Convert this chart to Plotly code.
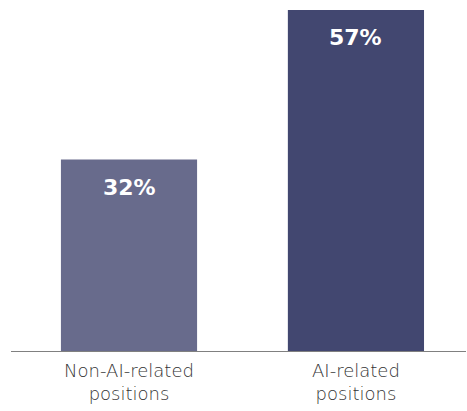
import plotly.graph_objects as go

categories = ["Non-AI-related<br>positions", "AI-related<br>positions"]
values = [32, 57]
value_labels = ["32%", "57%"]
bar_colors = ["#686b8c", "#424770"]

x_pos = list(range(len(categories)))

fig = go.Figure()
fig.add_trace(go.Bar(
    x=x_pos, y=values, width=0.6,
    marker=dict(color=bar_colors, line=dict(width=0)),
    hoverinfo="skip",
))

for xi, v, lab in zip(x_pos, values, value_labels):
    fig.add_annotation(
        x=xi, y=v, text="<b>" + lab + "</b>", showarrow=False,
        yanchor="top", yshift=-13,
        font=dict(family="DejaVu Sans", size=22, color="white"),
    )

fig.update_layout(
    width=467, height=411,
    margin=dict(l=11, r=1, t=10, b=60),
    paper_bgcolor="white", plot_bgcolor="white",
    showlegend=False,
    xaxis=dict(
        range=[-0.52, 1.485], automargin=False,
        tickmode="array", tickvals=x_pos, ticktext=categories,
        showline=True, linecolor="#808080", linewidth=1,
        showgrid=False, zeroline=False, ticks="",
        tickfont=dict(family="DejaVu Sans", size=18, color="#333333", weight=200),
        ticklabelstandoff=3,
    ),
    yaxis=dict(range=[0, 57], visible=False, automargin=False),
)

fig.write_html("out.html", config={"displayModeBar": False},
               post_script="document.body.style.margin='0';")
